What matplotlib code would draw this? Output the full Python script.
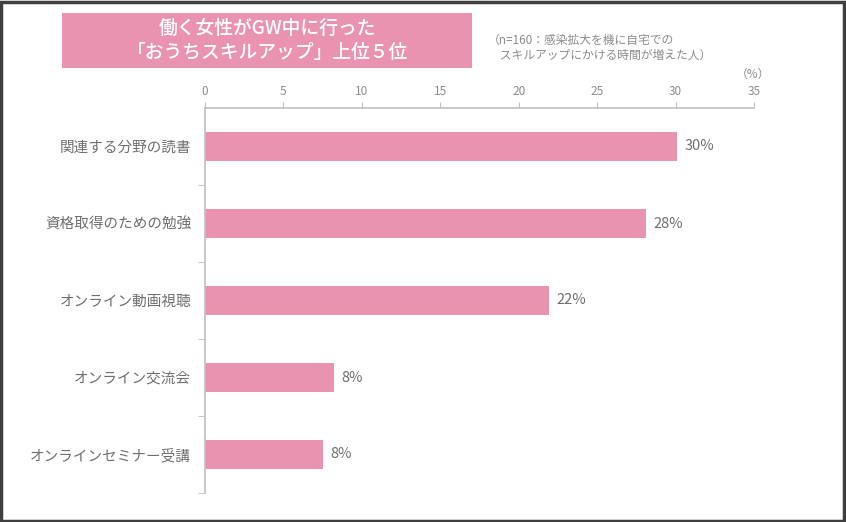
import matplotlib
matplotlib.use("Agg")
import matplotlib.pyplot as plt
from matplotlib.patches import Rectangle

plt.rcParams['font.family'] = ['Noto Sans CJK JP', 'DejaVu Sans']

# data
categories = ["関連する分野の読書", "資格取得のための勉強", "オンライン動画視聴",
              "オンライン交流会", "オンラインセミナー受講"]
values = [30.1, 28.1, 21.9, 8.2, 7.5]
labels = ["30%", "28%", "22%", "8%", "8%"]
xticks = [0, 5, 10, 15, 20, 25, 30, 35]

pink = "#E993B1"
gray_txt = "#6E6E6E"
light_txt = "#8C8C8C"
axis_col = "#BFBFBF"

fig = plt.figure(figsize=(8.46, 5.22), dpi=100)
fig.patch.set_facecolor("white")

# outer dark frame
fig.patches.append(Rectangle((0.001, 0.002), 0.997, 0.995, transform=fig.transFigure,
                             fill=False, edgecolor="#3F3F3F", linewidth=2.5))

ax = fig.add_axes([205/846, 1-493/522, (754-205)/846, (493-108)/522])

ypos = list(range(len(categories)))
ax.barh(ypos, values, height=0.37, color=pink, zorder=2)
ax.set_ylim(len(categories)-0.5, -0.5)
ax.set_xlim(0, 35)

for y, v, t in zip(ypos, values, labels):
    ax.text(v + 0.5, y, t, va="center", ha="left", fontsize=10.5, color=gray_txt)

# x axis on top
ax.xaxis.tick_top()
ax.set_xticks(xticks)
ax.set_xticklabels([str(t) for t in xticks], fontsize=8.5, color=light_txt)
ax.tick_params(axis="x", direction="out", length=4, color=axis_col, pad=3)

# y axis ticks at category boundaries
ax.set_yticks(ypos)
ax.set_yticklabels(categories, fontsize=10.5, color=gray_txt)
ax.tick_params(axis="y", length=0, pad=10)
ax.set_yticks([y + 0.5 for y in ypos], minor=True)
ax.tick_params(axis="y", which="minor", length=5, color=axis_col, direction="out")

for side in ["right", "bottom"]:
    ax.spines[side].set_visible(False)
ax.spines["top"].set_color(axis_col)
ax.spines["left"].set_color(axis_col)
ax.spines["top"].set_linewidth(1.2)
ax.spines["left"].set_linewidth(1.2)

# title box
fig.patches.append(Rectangle((62/846, 1-68/522), (472-62)/846, (68-13)/522,
                             transform=fig.transFigure, facecolor=pink, edgecolor="none"))
fig.text(267/846, 1-28/522, "働く女性がGW中に行った", ha="center", va="center",
         fontsize=13.5, color="white", fontweight="medium")
fig.text(267/846, 1-53/522, "「おうちスキルアップ」上位５位", ha="center", va="center",
         fontsize=13.5, color="white", fontweight="medium")

fig.text(488/846, 1-40/522, "（n=160：感染拡大を機に自宅での", ha="left", va="center",
         fontsize=8.5, color=light_txt)
fig.text(488/846, 1-55/522, "　スキルアップにかける時間が増えた人）", ha="left", va="center",
         fontsize=8.5, color=light_txt)
fig.text(753/846, 1-74/522, "（%）", ha="center", va="center", fontsize=8.5, color=light_txt)

fig.savefig("out.png", dpi=100)
